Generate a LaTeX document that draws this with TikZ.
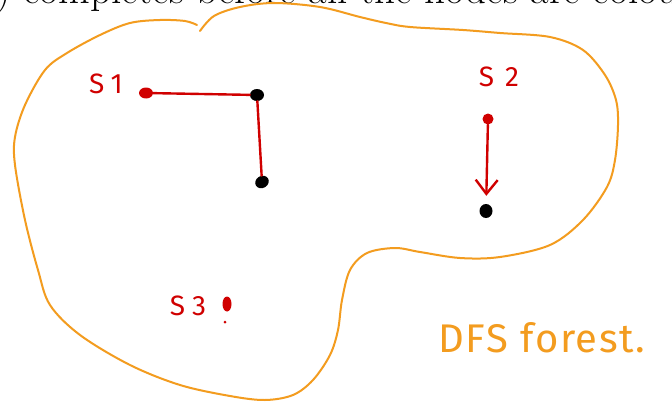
\documentclass[tikz,border=0pt]{standalone}
\usepackage{fontspec}
\newfontfamily\hand{Fira Sans}
\usetikzlibrary{arrows.meta,shapes.geometric}
\definecolor{hred}{RGB}{208,0,0}
\definecolor{horange}{RGB}{243,156,31}
\tikzset{
  reddot/.style={ellipse,fill=hred,inner sep=0pt,minimum width=11pt,minimum height=10pt},
  blackdot/.style={ellipse,fill=black,inner sep=0pt,minimum width=14pt,minimum height=12pt},
  redline/.style={draw=hred,line width=2.4pt,line cap=round},
  blob/.style={draw=horange,line width=2pt,line cap=round},
  redlbl/.style={text=hred,inner sep=0pt,font=\hand\fontsize{28}{30}\selectfont},
  orlbl/.style={text=horange,inner sep=0pt,font=\hand\fontsize{40}{44}\selectfont},
  toptext/.style={inner sep=0pt,anchor=base west,font=\fontsize{41}{48}\selectfont}
}
\begin{document}
\begin{tikzpicture}[x=1pt,y=-1pt]
\useasboundingbox (0,0) rectangle (672,404);
\clip (0,0) rectangle (672,404);
\fill[white] (0,0) rectangle (672,404);
% cut-off text at the top
\node[toptext] (top) at (-4,4) {) completes before all the nodes are colour};
% orange outline
\draw[blob] plot[smooth,tension=0.55] coordinates {
 (200,31) (214,16) (240,7) (274,3) (320,7) (360,17) (386,23) (410,27) (463,30)
 (500,33) (550,37) (583,50) (605,75) (616,100) (618,125) (615,160) (607,187)
 (583,220) (550,245) (500,257) (460,258) (420,252) (395,248) (367,253) (350,270)
 (342,300) (338,330) (330,355) (313,380) (293,395) (265,400) (230,396) (180,385)
 (130,365) (80,335) (50,305) (38,270) (25,220) (15,165) (15,137) (25,105) (45,70)
 (67,53) (100,35) (130,23) (160,20) (185,21) (197,25)};
% nodes
\node[reddot,minimum width=14pt,minimum height=11pt] (r1) at (146,93) {};
\node[blackdot] (b1) at (257,95) {};
\node[blackdot,rotate=30] (b2) at (262,182) {};
\node[reddot,minimum width=11pt,minimum height=11pt] (r2) at (488,119) {};
\node[blackdot,minimum width=13pt,minimum height=14pt] (b3) at (486,211) {};
\node[reddot,minimum width=9pt,minimum height=15pt] (r3) at (227,304) {};
\node[circle,fill=hred,inner sep=0pt,minimum size=3pt] (r3m) at (225,322) {};
% edges
\draw[redline] (r1) -- (b1);
\draw[redline] (b1) -- (b2);
\draw[redline,-{Straight Barb[length=14pt,width=22pt,line width=2.4pt]},shorten >=8pt] (r2) -- (b3);
% labels
\node[redlbl] (s1) at (106,84) {\addfontfeatures{LetterSpace=25}S1};
\node[redlbl] (s2) at (499,77) {\addfontfeatures{LetterSpace=40}S2};
\node[redlbl] (s3) at (188,306) {\addfontfeatures{LetterSpace=25}S3};
\node[orlbl] (dfs) at (542,338) {\addfontfeatures{LetterSpace=4}DFS forest.};
\end{tikzpicture}
\end{document}
